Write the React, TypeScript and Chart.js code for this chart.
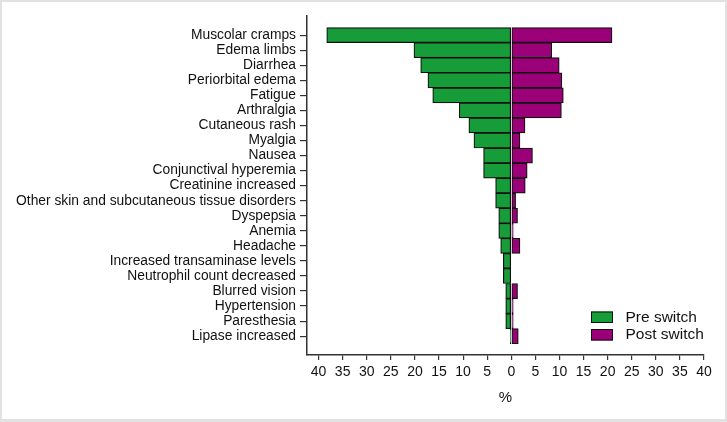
import React, { useEffect, useRef } from "react";
import { Chart, registerables } from "chart.js";

Chart.register(...registerables);

const CATEGORIES = [
  "Muscolar cramps",
  "Edema limbs",
  "Diarrhea",
  "Periorbital edema",
  "Fatigue",
  "Arthralgia",
  "Cutaneous rash",
  "Myalgia",
  "Nausea",
  "Conjunctival hyperemia",
  "Creatinine increased",
  "Other skin and subcutaneous tissue disorders",
  "Dyspepsia",
  "Anemia",
  "Headache",
  "Increased transaminase levels",
  "Neutrophil count decreased",
  "Blurred vision",
  "Hypertension",
  "Paresthesia",
  "Lipase increased",
];

const PRE_SWITCH = [
  38.3, 20.2, 18.8, 17.3, 16.3, 10.8, 8.8, 7.75, 5.75, 5.75, 3.25, 3.25, 2.6,
  2.6, 2.2, 1.65, 1.65, 1.15, 1.15, 1.15, 0.2,
];

const POST_SWITCH = [
  20.9, 8.4, 9.95, 10.5, 10.8, 10.4, 2.85, 1.8, 4.4, 3.3, 2.9, 0.9, 1.3, 0.4,
  1.8, 0, 0, 1.3, 0.4, 0.4, 1.45,
];

const X_TICKS = [-40, -35, -30, -25, -20, -15, -10, -5, 0, 5, 10, 15, 20, 25, 30, 35, 40];

const GREEN = "#169c38";
const PURPLE = "#9c0078";
const FONT = "'Liberation Sans', Arial, sans-serif";

const legendPlugin = {
  id: "customLegend",
  afterDraw(chart: any) {
    const ctx = chart.ctx;
    const items = chart.data.datasets;
    ctx.save();
    items.forEach((ds: any, i: number) => {
      const bx = 591;
      const by = 311.5 + i * 17.5;
      ctx.fillStyle = ds.backgroundColor;
      ctx.fillRect(bx, by, 22, 11.5);
      ctx.strokeStyle = "#111";
      ctx.lineWidth = 1;
      ctx.strokeRect(bx + 0.5, by + 0.5, 21, 10.5);
      ctx.fillStyle = "#111";
      ctx.font = `15.5px ${FONT}`;
      ctx.textBaseline = "middle";
      ctx.textAlign = "left";
      ctx.fillText(ds.label, 625.5, by + 6);
    });
    ctx.restore();
  },
};

export default function App() {
  const ref = useRef<HTMLCanvasElement | null>(null);

  useEffect(() => {
    if (!ref.current) return;
    const chart = new Chart(ref.current, {
      type: "bar",
      data: {
        datasets: [
          {
            label: "Pre switch",
            data: PRE_SWITCH.map((v, i) => ({ x: -v, y: i })),
            backgroundColor: GREEN,
            borderColor: "#111",
            borderWidth: 1.2,
            borderSkipped: false,
            barPercentage: 1,
            categoryPercentage: 1,
          },
          {
            label: "Post switch",
            data: POST_SWITCH.map((v, i) => ({ x: v === 0 ? null : v, y: i })),
            backgroundColor: PURPLE,
            borderColor: "#111",
            borderWidth: 1.2,
            borderSkipped: false,
            barPercentage: 1,
            categoryPercentage: 1,
          },
        ],
      },
      options: {
        indexAxis: "y",
        animation: false,
        responsive: false,
        maintainAspectRatio: false,
        layout: { padding: { left: 0, top: 16, right: 23, bottom: 0 } },
        plugins: {
          legend: { display: false },
          tooltip: { enabled: false },
        },
        scales: {
          x: {
            type: "linear",
            stacked: true,
            min: -42.4,
            max: 40,
            afterBuildTicks: (s: any) => {
              s.ticks = X_TICKS.map((v) => ({ value: v }));
            },
            afterFit: (s: any) => {
              s.height = 67;
            },
            ticks: {
              autoSkip: false,
              maxRotation: 0,
              padding: 4,
              color: "#111",
              font: { family: FONT, size: 14 },
              callback: (v: any) => String(Math.abs(Number(v))),
            },
            grid: {
              drawOnChartArea: false,
              drawTicks: true,
              tickLength: 5,
              color: "#333",
              lineWidth: 1.2,
            },
            border: { display: true, color: "#333", width: 1.5 },
            title: {
              display: true,
              text: "%",
              color: "#111",
              font: { family: FONT, size: 15 },
              padding: { top: 0, bottom: 15 },
            },
          },
          y: {
            type: "linear",
            stacked: true,
            reverse: true,
            offset: false,
            min: -1.27,
            max: 21.25,
            afterBuildTicks: (s: any) => {
              s.ticks = CATEGORIES.map((_, i) => ({ value: i }));
            },
            afterFit: (s: any) => {
              s.width = 307;
            },
            ticks: {
              autoSkip: false,
              padding: 4,
              color: "#111",
              font: { family: FONT, size: 13.8 },
              callback: (v: any) => CATEGORIES[Number(v)] ?? "",
            },
            grid: {
              offset: false,
              drawOnChartArea: false,
              drawTicks: true,
              tickLength: 7,
              color: "#333",
              lineWidth: 1.2,
            },
            border: { display: true, color: "#333", width: 1.5 },
          },
        },
      } as any,
      plugins: [legendPlugin],
    });
    return () => chart.destroy();
  }, []);

  return (
    <div
      style={{
        position: "fixed",
        left: 0,
        top: 0,
        width: 727,
        height: 422,
        background: "#fff",
      }}
    >
      <canvas ref={ref} width={727} height={422} style={{ position: "absolute", left: 0, top: 0, width: 727, height: 422 }} />
      <div
        style={{
          position: "absolute",
          left: 0,
          top: 0,
          width: 727,
          height: 422,
          boxSizing: "border-box",
          borderStyle: "solid",
          borderColor: "#e2e2e2",
          borderWidth: "2px 2px 3px 2px",
          pointerEvents: "none",
        }}
      />
    </div>
  );
}
